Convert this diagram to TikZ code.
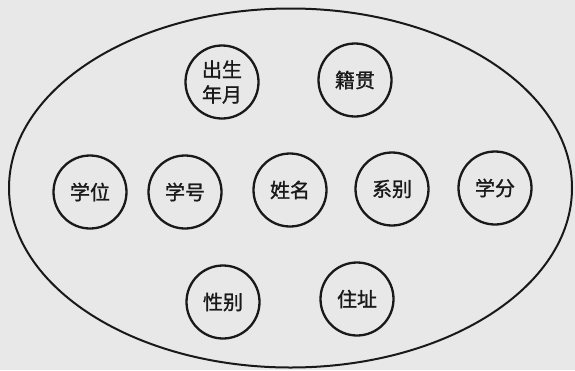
\documentclass[tikz,border=0pt]{standalone}
\usepackage{fontspec}
\usetikzlibrary{shapes.geometric}
\newfontfamily\cjk[FakeBold=1.2]{Noto Sans CJK SC}
\definecolor{paper}{RGB}{232,232,232}
\definecolor{ink}{RGB}{25,25,25}
\begin{document}
\begin{tikzpicture}[x=1pt,y=-1pt,
  attr/.style={circle,draw=ink,line width=2.3pt,minimum size=73pt,inner sep=0pt,
    font=\cjk\fontsize{20}{25}\selectfont,text=ink,align=center}]
\fill[paper] (0,0) rectangle (575,370);
\useasboundingbox (0,0) rectangle (575,370);
\node[ellipse,draw=ink,line width=2pt,minimum width=563pt,minimum height=359pt,inner sep=0pt] (set) at (290.5,188) {};
\node[attr] (csny) at (222,82) {出生\\年月};
\node[attr] (jg) at (355,80) {籍贯};
\node[attr] (xw) at (90,192) {学位};
\node[attr] (xh) at (185,192) {学号};
\node[attr] (xm) at (290,190) {姓名};
\node[attr] (xb) at (392,189) {系别};
\node[attr] (xf) at (495,188) {学分};
\node[attr] (xbie) at (223,302) {性别};
\node[attr] (zz) at (357,299) {住址};
\end{tikzpicture}
\end{document}
